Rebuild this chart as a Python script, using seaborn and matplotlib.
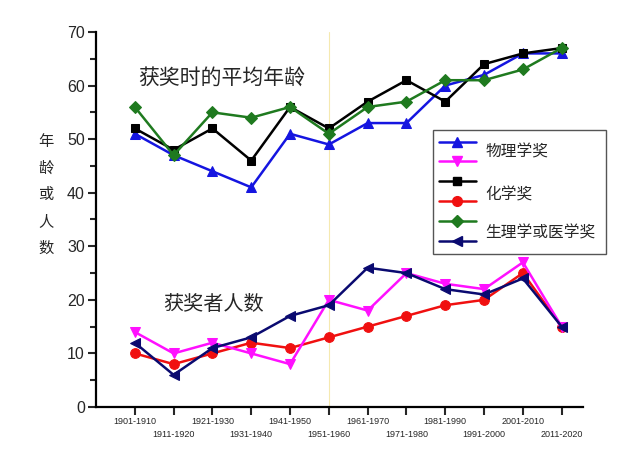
import numpy as np
import pandas as pd
import seaborn as sns
import matplotlib.pyplot as plt
from matplotlib.lines import Line2D
from matplotlib.ticker import MultipleLocator

# Decades
decades = ['1901-1910', '1911-1920', '1921-1930', '1931-1940', '1941-1950', '1951-1960',
           '1961-1970', '1971-1980', '1981-1990', '1991-2000', '2001-2010', '2011-2020']

# Average age when awarded
age_physics = [51, 47, 44, 41, 51, 49, 53, 53, 60, 62, 66, 66]
age_chemistry = [52, 48, 52, 46, 56, 52, 57, 61, 57, 64, 66, 67]
age_medicine = [56, 47, 55, 54, 56, 51, 56, 57, 61, 61, 63, 67]

# Number of laureates
cnt_physics = [14, 10, 12, 10, 8, 20, 18, 25, 23, 22, 27, 15]
cnt_chemistry = [10, 8, 10, 12, 11, 13, 15, 17, 19, 20, 25, 15]
cnt_medicine = [12, 6, 11, 13, 17, 19, 26, 25, 22, 21, 24, 15]

sns.set_style('white')
plt.rcParams['font.family'] = ['Noto Sans CJK SC', 'DejaVu Sans']

fig = plt.figure(figsize=(6.4, 4.55), dpi=100)
ax = fig.add_axes([0.15, 0.1055, 0.761, 0.8242])

x = np.arange(len(decades))

# faint guide line at 1951-1960
ax.axvline(5, color='#f5e9b0', lw=0.8, zorder=0)

series = [
    (age_physics, '#1515e0', '^', 7),
    (age_chemistry, '#000000', 's', 6),
    (age_medicine, '#1f7a1f', 'D', 6),
    (cnt_chemistry, '#f01010', 'o', 7),
    (cnt_physics, '#ff10ff', 'v', 7),
    (cnt_medicine, '#0a0a70', '<', 7),
]
for vals, col, mk, ms in series:
    sns.lineplot(x=x, y=vals, ax=ax, color=col, marker=mk, markersize=ms,
                 markeredgecolor=col, linewidth=1.8)

ax.set_xlim(-1.0, 11.55)
ax.set_ylim(0, 70)
ax.yaxis.set_major_locator(MultipleLocator(10))
ax.yaxis.set_minor_locator(MultipleLocator(5))
ax.set_xticks(x)
ax.set_xticklabels([d if i % 2 == 0 else '\n' + d for i, d in enumerate(decades)],
                   fontsize=6.5, family='Liberation Sans', linespacing=1.55)
for lab in ax.get_yticklabels():
    lab.set_family('Liberation Sans')
ax.tick_params(axis='y', which='major', direction='out', length=6, width=1.5,
               labelsize=11.5, left=True, pad=2)
ax.tick_params(axis='y', which='minor', direction='out', length=4, width=1.5, left=True)
ax.tick_params(axis='x', which='major', direction='out', length=6, width=1.5,
               bottom=True, pad=1)
for s in ['top', 'right']:
    ax.spines[s].set_visible(False)
for s in ['left', 'bottom']:
    ax.spines[s].set_linewidth(1.6)
    ax.spines[s].set_color('black')

# vertical stacked y label
fig.text(0.072, 0.708, '年\n龄\n或\n人\n数', fontsize=11, ha='center', va='top',
         linespacing=1.74)

ax.text(0.086, 0.875, '获奖时的平均年龄', transform=ax.transAxes, fontsize=15,
        ha='left', va='center')
ax.text(0.138, 0.272, '获奖者人数', transform=ax.transAxes, fontsize=14.5,
        ha='left', va='center')

# legend: pairs of handles share one label
handles = [Line2D([], [], color=c, marker=m, markersize=ms, lw=1.8)
           for (_, c, m, ms) in [series[0], series[4], series[1], series[3], series[2], series[5]]]
leg = ax.legend(handles, [' ' * 37] * 6, loc='upper left', bbox_to_anchor=(0.692, 0.739),
                borderaxespad=0, frameon=True, fancybox=False, edgecolor='#555555',
                fontsize=10, handlelength=2.7, labelspacing=0.42, borderpad=0.4,
                handletextpad=0.6, framealpha=1)
leg.get_frame().set_linewidth(1.0)
for lab, yy in [('物理学奖', 0.681), ('化学奖', 0.565), ('生理学或医学奖', 0.464)]:
    ax.text(0.799, yy, lab, transform=ax.transAxes, fontsize=11.3, ha='left', va='center',
            zorder=10)

fig.savefig('out.png', dpi=100)
